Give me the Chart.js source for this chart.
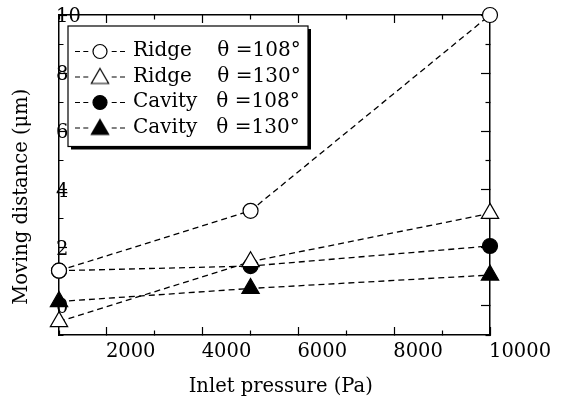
<!DOCTYPE html>
<html><head><meta charset="utf-8">
<script src="https://cdn.jsdelivr.net/npm/chart.js@4/dist/chart.umd.min.js"></script>
<style>html,body{margin:0;padding:0;background:#fff}#wrap{width:563px;height:401px;position:relative}</style>
</head><body><div id="wrap"><canvas id="c" width="563" height="401"></canvas></div>
<script>
// ---- data ----
const pressures = [1000, 5000, 10000];
const seriesNames = ['Ridge    \u03B8 =108\u00B0', 'Ridge    \u03B8 =130\u00B0', 'Cavity   \u03B8 =108\u00B0', 'Cavity   \u03B8 =130\u00B0'];
const ridge108 = [1.21, 3.27, 10.0];
const ridge130 = [-0.54, 1.52, 3.18];
const cavity108 = [1.21, 1.37, 2.06];
const cavity130 = [0.15, 0.60, 1.06];
const xTickLabels = [2000, 4000, 6000, 8000, 10000];
const yTickLabels = [0, 2, 4, 6, 8, 10];
const xRange = [1000, 10000];
const yRange = [-1, 10];
const xTitle = 'Inlet pressure (Pa)';
const yTitle = 'Moving distance (\u03BCm)';

// ---- styling ----
const FONT = 'DejaVu Serif';
const seriesStyle = [
  {shape: 'circle', filled: false},
  {shape: 'triangle', filled: false},
  {shape: 'circle', filled: true},
  {shape: 'triangle', filled: true}
];
const seriesValues = [ridge108, ridge130, cavity108, cavity130];

function makeIcon(shape, filled) {
  const c = document.createElement('canvas');
  c.width = 54; c.height = 22;
  const g = c.getContext('2d');
  const cx = 27, cy = 11.5;
  g.strokeStyle = '#000'; g.lineWidth = 1;
  g.setLineDash([5, 3.3]);
  g.beginPath(); g.moveTo(cx - 25, cy); g.lineTo(cx - 11.7, cy);
  g.moveTo(cx + 11.7, cy); g.lineTo(cx + 25, cy); g.stroke();
  g.setLineDash([]);
  g.lineWidth = 1.2;
  g.fillStyle = filled ? '#000' : '#fff';
  g.beginPath();
  if (shape === 'circle') {
    g.arc(cx, cy, 7, 0, Math.PI * 2);
  } else {
    const r = 10, a = 2 * Math.PI / 3, yc = cy + 1.5;
    g.moveTo(cx, yc - r);
    g.lineTo(cx + r * Math.sin(a), yc - r * Math.cos(a));
    g.lineTo(cx - r * Math.sin(a), yc - r * Math.cos(a));
    g.closePath();
  }
  g.fill(); g.stroke();
  return c;
}
const icons = seriesStyle.map(s => makeIcon(s.shape, s.filled));

const datasets = seriesNames.map((name, i) => ({
  label: name,
  data: pressures.map((p, j) => ({x: p, y: seriesValues[i][j]})),
  borderColor: '#000',
  borderWidth: 1.3,
  borderDash: [6, 4],
  pointStyle: seriesStyle[i].shape,
  pointRadius: seriesStyle[i].shape === 'circle' ? 7.5 : 10,
  pointBackgroundColor: seriesStyle[i].filled ? '#000' : '#fff',
  pointBorderColor: '#000',
  pointBorderWidth: 1.2,
  fill: false,
  tension: 0,
  clip: false
}));

const isMajorX = v => xTickLabels.includes(v);
const isMajorY = v => yTickLabels.includes(v);
const tickFont = {family: FONT, size: 19.5};
const DASH_FROM_BORDER = [5, 100];
const DASH_FROM_INNER = [0, 3.5, 5.5, 100];

function zeroPad(s) { s.paddingLeft = 0; s.paddingRight = 0; s.paddingTop = 0; s.paddingBottom = 0; }

const legendFrame = {
  id: 'legendFrame',
  afterLayout(chart) {
    const lg = chart.legend;
    lg.left = 71.5; lg.top = 35.5;
    lg.right = lg.left + lg.width;
    lg.bottom = chart.chartArea.bottom;
  },
  beforeDraw(chart) {
    const ctx = chart.ctx, lg = chart.legend;
    const x = lg.left - 3.5, y = lg.top - 9.5, w = 240, h = 120.5;
    ctx.save();
    ctx.fillStyle = '#000';
    ctx.fillRect(x + 3, y + 3, w, h);
    ctx.fillStyle = '#fff';
    ctx.fillRect(x, y, w, h);
    ctx.strokeStyle = '#000'; ctx.lineWidth = 1.2;
    ctx.strokeRect(x, y, w, h);
    ctx.restore();
  }
};

const NB = '\u00A0';
new Chart(document.getElementById('c'), {
  type: 'line',
  data: {datasets},
  plugins: [legendFrame],
  options: {
    responsive: false,
    animation: false,
    events: [],
    layout: {padding: 0},
    plugins: {
      tooltip: {enabled: false},
      legend: {
        position: 'chartArea',
        align: 'start',
        labels: {
          font: {family: FONT, size: 20},
          color: '#000',
          usePointStyle: true,
          pointStyleWidth: 46,
          padding: 5.5,
          generateLabels: (chart) => chart.data.datasets.map((d, i) => ({
            text: d.label, pointStyle: icons[i], fillStyle: '#000', strokeStyle: '#000',
            lineWidth: 0, hidden: false, datasetIndex: i, fontColor: '#000'
          }))
        }
      }
    },
    scales: {
      x: {
        type: 'linear', position: 'bottom', min: xRange[0], max: xRange[1],
        ticks: {
          stepSize: 1000, autoSkip: false, maxRotation: 0, minRotation: 0,
          align: 'start', padding: 12.8, labelOffset: -1, color: '#000', font: tickFont,
          callback: v => isMajorX(v) ? String(v) : ''
        },
        grid: {
          drawOnChartArea: false, drawTicks: true, tickLength: -8, tickWidth: 1.2, tickColor: '#000',
          tickBorderDash: c => (c.tick && isMajorX(c.tick.value)) ? [] : DASH_FROM_BORDER
        },
        border: {display: true, color: '#000', width: 1.5},
        title: {display: true, text: NB + NB + xTitle, color: '#000', font: {family: FONT, size: 19.5}, padding: {top: 0, bottom: 2.3}},
        afterFit: s => { s.height = 66; zeroPad(s); }
      },
      x2: {
        type: 'linear', position: 'top', min: xRange[0], max: xRange[1],
        ticks: {display: false, stepSize: 1000, autoSkip: false, maxRotation: 0},
        grid: {
          drawOnChartArea: false, drawTicks: true, tickLength: -8, tickWidth: 1.2, tickColor: '#000',
          tickBorderDash: c => (c.tick && isMajorX(c.tick.value)) ? [] : DASH_FROM_INNER
        },
        border: {display: true, color: '#000', width: 1.5},
        afterFit: s => { s.height = 15; zeroPad(s); }
      },
      y: {
        type: 'linear', position: 'left', min: yRange[0], max: yRange[1],
        ticks: {
          stepSize: 1, autoSkip: false, mirror: true, padding: -3, labelOffset: 2,
          color: '#000', font: tickFont,
          callback: v => isMajorY(v) ? String(v) : ''
        },
        grid: {
          drawOnChartArea: false, drawTicks: true, tickLength: -8, tickWidth: 1.2, tickColor: '#000',
          tickBorderDash: c => (c.tick && isMajorY(c.tick.value)) ? [] : DASH_FROM_INNER
        },
        border: {display: true, color: '#000', width: 1.5},
        title: {display: true, text: yTitle + NB.repeat(7), color: '#000', font: {family: FONT, size: 19.5}, padding: {top: 10.3, bottom: 0}},
        afterFit: s => { s.width = 59; zeroPad(s); }
      },
      y2: {
        type: 'linear', position: 'right', min: yRange[0], max: yRange[1],
        ticks: {display: false, stepSize: 1, autoSkip: false},
        grid: {
          drawOnChartArea: false, drawTicks: true, tickLength: -9, tickWidth: 1.2, tickColor: '#000',
          tickBorderDash: c => (c.tick && isMajorY(c.tick.value)) ? [] : DASH_FROM_BORDER
        },
        border: {display: true, color: '#000', width: 1.5},
        afterFit: s => { s.width = 73; zeroPad(s); }
      }
    }
  }
});
</script>
</body></html>
